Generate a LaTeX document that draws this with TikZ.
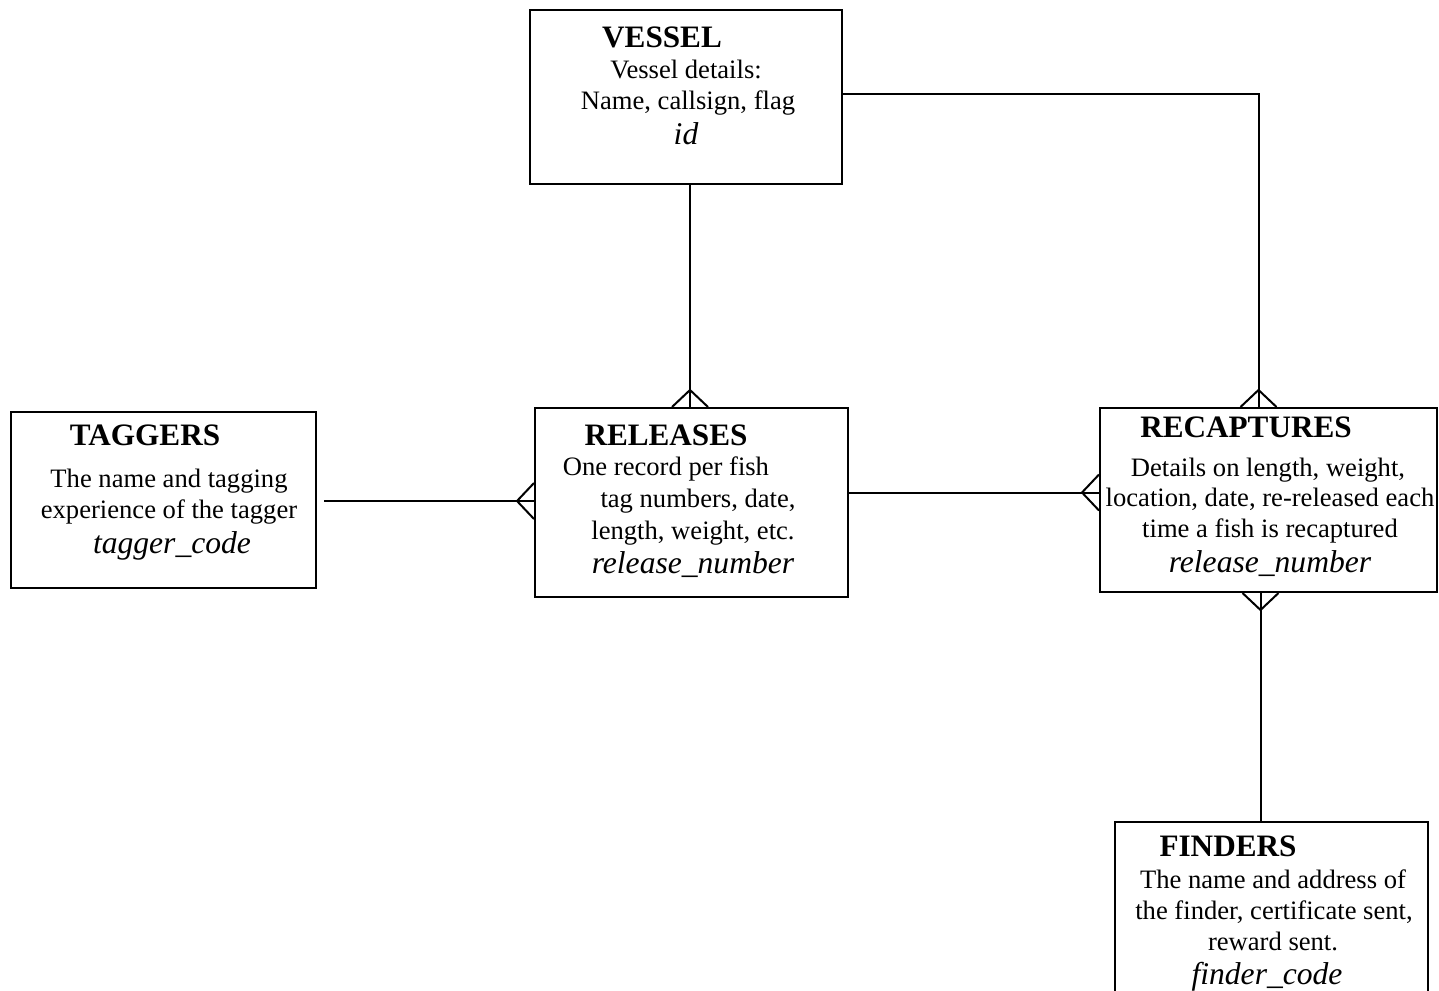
\documentclass[tikz,border=0pt]{standalone}
\usepackage{fontspec}
\setmainfont{Liberation Serif}
\usetikzlibrary{calc}

\begin{document}
\begin{tikzpicture}[x = 0.5pt, y = -0.5pt, line width = 1pt,
        entity/.style = {draw, rectangle, inner sep = 0pt},
        title/.style = {anchor = base, inner sep = 0pt, font = \fontsize{15.6}{18}\selectfont\bfseries},
        info/.style = {anchor = base, inner sep = 0pt, font = \fontsize{13.3}{15.5}\selectfont},
        key/.style = {anchor = base, inner sep = 0pt, font = \fontsize{15.8}{18}\selectfont\itshape},
        crowfoot/.pic = {\draw (-18, 0) -- (0, -17) -- (18, 0);}]

        \clip (0, 0) rectangle (1439, 990);

        % entities
        \node [entity, minimum width = 156pt, minimum height = 87pt] (vessel) at (686, 97) {};
        \node [entity, minimum width = 152.5pt, minimum height = 88pt] (taggers) at (163.5, 500) {};
        \node [entity, minimum width = 156.5pt, minimum height = 94.5pt] (rel) at (691.5, 502.5) {};
        \node [entity, minimum width = 168.5pt, minimum height = 92pt] (recap) at (1268.5, 500) {};
        \node [entity, minimum width = 156.5pt, minimum height = 94pt] (finders) at (1271.5, 916) {};

        % VESSEL
        \node [title] (vessel-t) at (662, 48) {VESSEL};
        \node [info] (vessel-1) at (686, 79) {Vessel details:};
        \node [info] (vessel-2) at (688, 110) {Name, callsign, flag};
        \node [key] (vessel-k) at (686, 144) {id};

        % TAGGERS
        \node [title] (taggers-t) at (145, 445) {TAGGERS};
        \node [info] (taggers-1) at (169, 487) {The name and tagging};
        \node [info] (taggers-2) at (169, 518) {experience of the tagger};
        \node [key] (taggers-k) at (172, 553) {tagger\_code};

        % RELEASES
        \node [title] (rel-t) at (666, 445) {RELEASES};
        \node [info] (rel-1) at (666, 475) {One record per fish};
        \node [info] (rel-2) at (698, 507) {tag numbers, date,};
        \node [info] (rel-3) at (693, 539) {length, weight, etc.};
        \node [key] (rel-k) at (693, 573) {release\_number};

        % RECAPTURES
        \node [title] (recap-t) at (1246, 437) {RECAPTURES};
        \node [info] (recap-1) at (1268, 476) {Details on length, weight,};
        \node [info] (recap-2) at (1270, 506) {location, date, re-released each};
        \node [info] (recap-3) at (1270, 537) {time a fish is recaptured};
        \node [key] (recap-k) at (1270, 572) {release\_number};

        % FINDERS
        \node [title] (finders-t) at (1228, 856) {FINDERS};
        \node [info] (finders-1) at (1273, 888) {The name and address of};
        \node [info] (finders-2) at (1274, 919) {the finder, certificate sent,};
        \node [info] (finders-3) at (1273, 950) {reward sent.};
        \node [key] (finders-k) at (1267, 984) {finder\_code};

        % relations
        \coordinate (vessel-s) at ($(vessel.south) + (4, 0)$);
        \coordinate (rel-n) at (vessel-s |- rel.north);
        \draw (vessel-s) -- (rel-n);
        \pic at (rel-n) {crowfoot};

        \coordinate (vessel-e) at ($(vessel.east) + (0, -3)$);
        \coordinate (recap-n) at ($(recap.north) + (-10, 0)$);
        \draw (vessel-e) -| (recap-n);
        \pic at (recap-n) {crowfoot};

        \coordinate (taggers-e) at ($(taggers.east) + (7, 1)$);
        \coordinate (rel-w) at (taggers-e -| rel.west);
        \draw (taggers-e) -- (rel-w);
        \pic [rotate = 90] at (rel-w) {crowfoot};

        \coordinate (rel-e) at ($(rel.east) + (0, -10)$);
        \coordinate (recap-w) at (rel-e -| recap.west);
        \draw (rel-e) -- (recap-w);
        \pic [rotate = 90] at (recap-w) {crowfoot};

        \coordinate (recap-s) at ($(recap.south) + (-8, 0)$);
        \coordinate (finders-n) at (recap-s |- finders.north);
        \draw (recap-s) -- (finders-n);
        \pic [rotate = 180] at (recap-s) {crowfoot};
    \end{tikzpicture}
\end{document}
